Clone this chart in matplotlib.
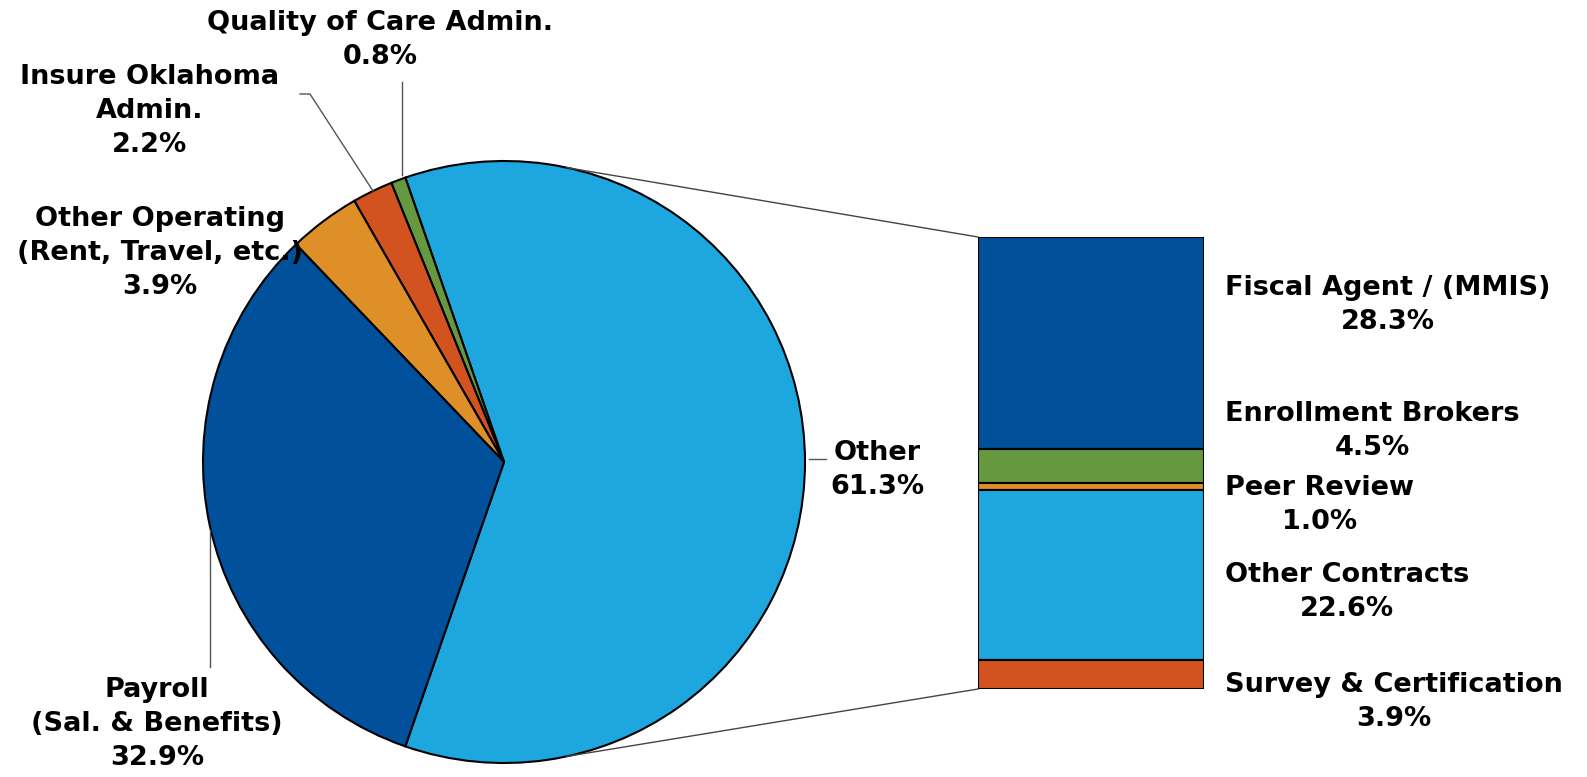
import matplotlib.pyplot as plt
import numpy as np

# pie (counter-clockwise, starting with "Other" centred on the right)
pie_labels = ["Other", "Quality of Care Admin.", "Insure Oklahoma\nAdmin.",
              "Other Operating\n(Rent, Travel, etc.)", "Payroll\n(Sal. & Benefits)"]
pie_values = [61.3, 0.8, 2.2, 3.9, 32.9]
pie_colors = ["#1ea6df", "#66993f", "#d2531f", "#df8f27", "#00509b"]

# breakdown bar of "Other", top to bottom
bar_labels = ["Fiscal Agent / (MMIS)", "Enrollment Brokers", "Peer Review",
              "Other Contracts", "Survey & Certification"]
bar_values = [28.3, 4.5, 1.0, 22.6, 3.9]
bar_colors = ["#00509b", "#66993f", "#df8f27", "#1ea6df", "#d2531f"]

W, H = 1587, 777


def Y(p):
    return H - p


def fmt(v):
    return f"{v:.1f}%"


fig = plt.figure(figsize=(W / 100, H / 100), dpi=100)
ax = fig.add_axes([0, 0, 1, 1])

cx, cy, r = 504, 462, 301
other_deg = 360 * pie_values[0] / sum(pie_values)
ax.pie(pie_values, colors=pie_colors, startangle=-other_deg / 2,
       center=(cx, Y(cy)), radius=r, counterclock=True,
       wedgeprops=dict(edgecolor="black", linewidth=1.5))
ax.set_xlim(0, W)
ax.set_ylim(0, H)
ax.set_aspect("auto")
ax.axis("off")

# bar of breakdown
bx0, bx1, by0, by1 = 978, 1204, 237, 689
bax = fig.add_axes([bx0 / W, Y(by1) / H, (bx1 - bx0) / W, (by1 - by0) / H])
total = sum(bar_values)
bottom = total
for v, c in zip(bar_values, bar_colors):
    bottom -= v
    bax.bar(0, v, bottom=bottom, width=1, color=c, edgecolor="black", linewidth=1.5)
bax.set_xlim(-0.5, 0.5)
bax.set_ylim(0, total)
bax.axis("off")

# connector lines from pie to bar
ang = np.deg2rad(78)
ax.plot([cx + r * np.cos(ang), bx0], [Y(cy) + r * np.sin(ang), Y(by0)], color="#444444", lw=1)
ax.plot([cx + r * np.cos(ang), bx0], [Y(cy) - r * np.sin(ang), Y(by1)], color="#444444", lw=1)

tkw = dict(fontsize=19.5, fontweight="bold", family="DejaVu Sans",
           linespacing=1.38, color="black")

# pie labels
pie_pos = [(830, 470, "left"), (380, 40, "center"), (150, 111, "center"),
           (160, 253, "center"), (157, 724, "center")]
for lab, v, (x, y, ha) in zip(pie_labels, pie_values, pie_pos):
    ax.text(x, Y(y), lab + "\n" + fmt(v), ha=ha, va="center", multialignment="center", **tkw)

# leader lines
lc = dict(color="#555555", lw=1)
ax.plot([809, 826], [Y(459), Y(459)], **lc)
ax.plot([402, 402], [Y(82), Y(175)], **lc)
ax.plot([300, 310, 373], [Y(94), Y(94), Y(191)], **lc)
ax.plot([210, 210], [Y(530), Y(667)], **lc)

# bar labels
bar_y = [305, 431, 505, 592, 702]
for lab, v, y in zip(bar_labels, bar_values, bar_y):
    ax.text(1225, Y(y), lab + "\n" + fmt(v), ha="left", va="center", multialignment="center", **tkw)

fig.savefig("out.png", dpi=100)
